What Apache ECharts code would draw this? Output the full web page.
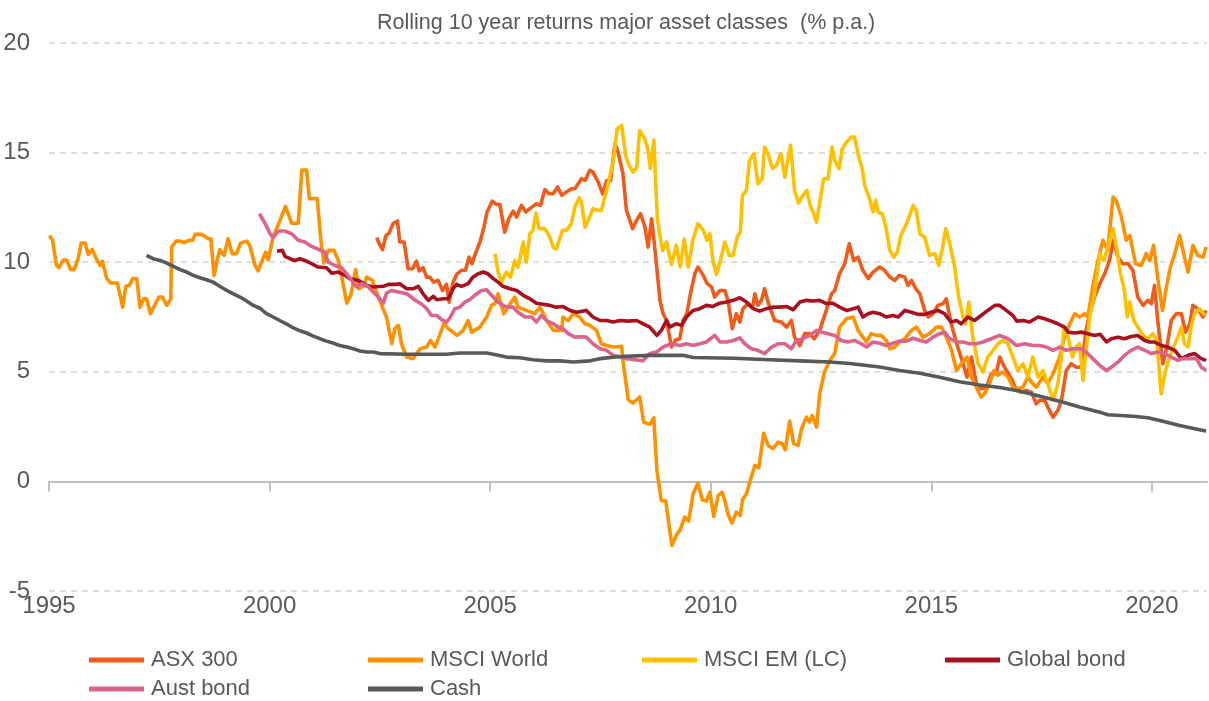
<!DOCTYPE html>
<html>
<head>
<meta charset="utf-8">
<title>Rolling 10 year returns</title>
<script src="https://cdn.jsdelivr.net/npm/echarts@6/dist/echarts.min.js"></script>
<style>
  html, body { margin: 0; padding: 0; background: #fff; }
  #chart { width: 1209px; height: 701px; }
</style>
</head>
<body>
<div id="chart"></div>
<script>
// [year, % p.a.]
const asx300 = [
  [2002.43, 11.12], [2002.48, 10.87], [2002.56, 10.57], [2002.64, 11.22], [2002.71, 11.33], [2002.80, 11.76],
  [2002.90, 11.88], [2002.95, 10.92], [2003.05, 10.92], [2003.14, 9.7], [2003.24, 9.7], [2003.33, 10.05],
  [2003.39, 9.6], [2003.48, 9.75], [2003.56, 9.32], [2003.63, 9.32], [2003.72, 9.09], [2003.82, 9.17],
  [2003.92, 8.71], [2004.01, 8.99], [2004.07, 8.18], [2004.16, 9.09], [2004.25, 9.47], [2004.35, 9.63],
  [2004.44, 9.63], [2004.52, 10.23], [2004.59, 9.93], [2004.65, 10.31], [2004.77, 10.92], [2004.86, 11.6],
  [2004.93, 12.29], [2005.05, 12.79], [2005.14, 12.64], [2005.22, 12.64], [2005.33, 11.37], [2005.42, 11.98],
  [2005.52, 12.33], [2005.60, 12.06], [2005.71, 12.59], [2005.81, 12.29], [2005.92, 12.48], [2006.05, 12.67],
  [2006.14, 12.59], [2006.24, 13.31], [2006.34, 13.12], [2006.43, 13.12], [2006.53, 13.43], [2006.62, 13.05],
  [2006.73, 13.2], [2006.84, 13.35], [2006.92, 13.35], [2007.02, 13.65], [2007.07, 13.81], [2007.15, 13.73],
  [2007.26, 14.19], [2007.33, 14.11], [2007.45, 13.65], [2007.55, 13.12], [2007.64, 13.73], [2007.73, 13.73],
  [2007.83, 15.41], [2007.90, 15.02], [2008.01, 14.04], [2008.09, 12.36], [2008.23, 11.53], [2008.32, 11.91],
  [2008.41, 12.21], [2008.51, 11.6], [2008.58, 10.69], [2008.66, 11.98], [2008.73, 10.69], [2008.85, 8.26],
  [2008.92, 7.65], [2009.00, 7.34], [2009.11, 6.13], [2009.21, 6.46], [2009.30, 6.51], [2009.37, 7.34],
  [2009.46, 7.65], [2009.54, 8.56], [2009.64, 9.47], [2009.71, 9.78], [2009.83, 9.4], [2009.92, 9.02],
  [2010.02, 8.87], [2010.09, 8.41], [2010.21, 8.71], [2010.32, 8.71], [2010.39, 8.26], [2010.49, 6.97],
  [2010.58, 7.65], [2010.66, 7.27], [2010.73, 7.88], [2010.85, 8.11], [2010.95, 7.95], [2011.00, 8.56],
  [2011.07, 8.03], [2011.15, 8.26], [2011.22, 8.79], [2011.30, 8.18], [2011.38, 7.72], [2011.45, 7.34],
  [2011.60, 7.27], [2011.72, 7.04], [2011.83, 7.34], [2011.90, 6.58], [2012.02, 6.2], [2012.13, 6.74],
  [2012.24, 6.74], [2012.35, 6.51], [2012.47, 6.89], [2012.62, 7.8], [2012.74, 8.56], [2012.81, 8.71],
  [2012.92, 9.47], [2013.04, 9.93], [2013.14, 10.84], [2013.24, 10.08], [2013.34, 10.23], [2013.45, 9.63],
  [2013.57, 9.25], [2013.68, 9.55], [2013.83, 9.78], [2013.94, 9.63], [2014.06, 9.32], [2014.17, 9.17],
  [2014.28, 9.4], [2014.40, 9.32], [2014.47, 8.94], [2014.55, 9.17], [2014.65, 8.79], [2014.74, 8.56],
  [2014.85, 7.8], [2014.93, 7.5], [2015.04, 7.65], [2015.15, 8.03], [2015.27, 8.11], [2015.34, 8.33],
  [2015.42, 7.5], [2015.49, 6.89], [2015.60, 6.13], [2015.72, 5.37], [2015.81, 4.76], [2015.91, 5.67],
  [2016.02, 4.46], [2016.13, 4.23], [2016.25, 4.3], [2016.36, 4.91], [2016.47, 4.91], [2016.55, 5.67],
  [2016.66, 5.21], [2016.82, 4.68], [2016.93, 4.15], [2017.04, 4.07], [2017.15, 4.15], [2017.27, 4.07],
  [2017.38, 3.54], [2017.46, 3.7], [2017.57, 3.7], [2017.64, 3.39], [2017.76, 2.93], [2017.87, 3.24],
  [2017.95, 3.7], [2018.06, 5.06], [2018.17, 5.37], [2018.29, 5.21], [2018.40, 5.21], [2018.51, 6.89],
  [2018.59, 7.65], [2018.70, 8.41], [2018.82, 9.02], [2018.93, 9.47], [2019.04, 10.08], [2019.13, 11.0],
  [2019.23, 10.23], [2019.34, 9.93], [2019.46, 9.93], [2019.57, 9.63], [2019.68, 8.41], [2019.80, 8.03],
  [2019.91, 8.26], [2019.99, 8.11], [2020.06, 8.94], [2020.14, 7.19], [2020.25, 5.37], [2020.34, 6.13],
  [2020.44, 7.34], [2020.55, 7.65], [2020.67, 7.65], [2020.76, 6.81], [2020.86, 7.19], [2020.93, 8.03],
  [2021.04, 7.88], [2021.16, 7.5], [2021.23, 7.8]
];

const msciWorld = [
  [1995.01, 11.22], [1995.08, 11.0], [1995.17, 9.85], [1995.23, 9.75], [1995.32, 10.1], [1995.40, 10.1],
  [1995.49, 9.66], [1995.57, 9.66], [1995.66, 10.16], [1995.73, 10.87], [1995.82, 10.87], [1995.89, 10.36],
  [1995.98, 10.58], [1996.08, 10.13], [1996.16, 9.85], [1996.21, 10.04], [1996.31, 9.25], [1996.40, 9.05],
  [1996.55, 9.05], [1996.67, 7.95], [1996.74, 8.9], [1996.82, 8.94], [1996.90, 9.25], [1996.99, 9.25],
  [1997.06, 7.95], [1997.15, 8.33], [1997.21, 8.33], [1997.30, 7.65], [1997.38, 7.98], [1997.49, 8.41],
  [1997.57, 8.41], [1997.67, 8.03], [1997.76, 8.33], [1997.78, 10.69], [1997.88, 10.96], [1997.97, 10.96],
  [1998.07, 10.9], [1998.17, 11.0], [1998.26, 11.0], [1998.31, 11.27], [1998.46, 11.27], [1998.61, 11.07],
  [1998.67, 11.07], [1998.74, 9.4], [1998.81, 10.08], [1998.87, 10.57], [1998.97, 10.31], [1999.06, 11.07],
  [1999.15, 10.39], [1999.25, 10.39], [1999.34, 10.87], [1999.48, 10.96], [1999.55, 10.77], [1999.67, 9.85],
  [1999.74, 9.6], [1999.82, 10.0], [1999.91, 10.46], [1999.97, 10.11], [2000.08, 11.15], [2000.22, 11.83],
  [2000.36, 12.55], [2000.50, 11.78], [2000.65, 11.78], [2000.73, 14.2], [2000.84, 14.2], [2000.90, 12.9],
  [2001.08, 12.9], [2001.16, 11.07], [2001.23, 9.96], [2001.33, 10.54], [2001.46, 10.54], [2001.56, 10.08],
  [2001.65, 9.17], [2001.75, 8.13], [2001.84, 8.49], [2001.95, 9.66], [2002.02, 8.79], [2002.12, 8.9],
  [2002.20, 9.32], [2002.33, 9.17], [2002.44, 8.56], [2002.54, 8.03], [2002.65, 7.5], [2002.77, 6.28],
  [2002.84, 6.97], [2002.92, 7.12], [2002.99, 6.28], [2003.11, 5.67], [2003.25, 5.6], [2003.41, 6.05],
  [2003.56, 6.13], [2003.65, 6.43], [2003.75, 6.13], [2003.84, 6.58], [2003.95, 7.19], [2004.05, 6.97],
  [2004.25, 6.66], [2004.39, 6.89], [2004.50, 7.34], [2004.58, 6.81], [2004.77, 7.04], [2004.92, 7.5],
  [2005.03, 8.03], [2005.11, 8.11], [2005.18, 8.56], [2005.31, 7.65], [2005.45, 8.1], [2005.56, 8.41],
  [2005.63, 7.95], [2005.82, 7.8], [2006.01, 7.65], [2006.13, 7.95], [2006.28, 7.34], [2006.43, 6.89],
  [2006.62, 6.89], [2006.65, 7.5], [2006.77, 7.34], [2006.88, 7.65], [2007.03, 7.5], [2007.15, 7.19],
  [2007.26, 7.12], [2007.41, 6.89], [2007.52, 6.28], [2007.64, 6.2], [2007.79, 6.13], [2007.98, 6.16],
  [2008.01, 5.52], [2008.13, 3.73], [2008.24, 3.57], [2008.39, 3.85], [2008.48, 2.71], [2008.62, 2.6],
  [2008.71, 2.9], [2008.78, 0.5], [2008.88, -0.87], [2008.98, -0.9], [2009.12, -2.92], [2009.22, -2.46],
  [2009.31, -2.2], [2009.41, -1.63], [2009.50, -1.81], [2009.60, -0.56], [2009.71, -0.08], [2009.81, -0.84],
  [2009.90, -0.9], [2009.98, -0.49], [2010.07, -1.6], [2010.17, -0.64], [2010.26, -0.49], [2010.33, -0.94],
  [2010.39, -1.5], [2010.48, -1.9], [2010.58, -1.4], [2010.67, -1.55], [2010.72, -0.84], [2010.81, -0.56],
  [2010.92, 0.2], [2011.00, 0.73], [2011.09, 0.62], [2011.20, 2.2], [2011.30, 1.64], [2011.41, 1.49],
  [2011.53, 1.79], [2011.62, 1.72], [2011.69, 1.45], [2011.79, 2.75], [2011.88, 1.72], [2011.98, 1.64],
  [2012.06, 2.4], [2012.17, 2.93], [2012.24, 2.71], [2012.30, 3.01], [2012.40, 2.48], [2012.47, 4.0],
  [2012.58, 5.0], [2012.70, 5.52], [2012.81, 5.83], [2012.92, 7.04], [2013.08, 7.42], [2013.23, 7.5],
  [2013.34, 6.89], [2013.45, 6.58], [2013.53, 6.36], [2013.64, 6.74], [2013.76, 6.66], [2013.87, 6.66],
  [2013.98, 6.43], [2014.06, 6.05], [2014.17, 6.13], [2014.28, 6.36], [2014.40, 6.51], [2014.55, 6.89],
  [2014.66, 7.04], [2014.81, 6.58], [2014.96, 6.74], [2015.12, 7.04], [2015.23, 7.04], [2015.34, 6.58],
  [2015.46, 5.98], [2015.57, 5.06], [2015.68, 5.37], [2015.81, 5.67], [2015.91, 4.76], [2016.02, 4.3],
  [2016.13, 3.85], [2016.23, 4.07], [2016.32, 4.46], [2016.42, 5.06], [2016.51, 4.84], [2016.62, 4.99],
  [2016.74, 4.76], [2016.85, 4.3], [2016.96, 4.23], [2017.08, 4.3], [2017.19, 4.76], [2017.30, 4.46],
  [2017.38, 4.3], [2017.53, 4.76], [2017.64, 4.46], [2017.76, 4.91], [2017.91, 5.67], [2018.02, 6.58],
  [2018.14, 7.19], [2018.25, 7.65], [2018.36, 7.5], [2018.48, 7.65], [2018.55, 7.5], [2018.66, 8.87],
  [2018.78, 10.08], [2018.89, 11.0], [2019.00, 10.54], [2019.12, 12.97], [2019.19, 12.82], [2019.31, 12.06],
  [2019.42, 11.0], [2019.50, 11.22], [2019.63, 9.93], [2019.76, 9.85], [2019.87, 10.39], [2019.95, 10.08],
  [2020.04, 10.77], [2020.14, 9.17], [2020.24, 7.8], [2020.33, 8.87], [2020.42, 9.78], [2020.52, 10.39],
  [2020.63, 11.22], [2020.72, 10.39], [2020.82, 9.55], [2020.93, 10.77], [2021.04, 10.31], [2021.16, 10.23],
  [2021.23, 10.69]
];

const msciEm = [
  [2005.11, 10.39], [2005.18, 9.55], [2005.26, 9.09], [2005.37, 9.55], [2005.46, 9.32], [2005.56, 10.08],
  [2005.63, 9.78], [2005.75, 10.92], [2005.82, 10.0], [2005.90, 11.3], [2005.97, 11.45], [2006.04, 12.24],
  [2006.11, 11.53], [2006.24, 11.53], [2006.35, 11.15], [2006.43, 10.69], [2006.50, 10.61], [2006.64, 11.45],
  [2006.73, 11.45], [2006.84, 11.76], [2006.92, 12.51], [2007.02, 12.94], [2007.07, 12.74], [2007.15, 11.6],
  [2007.24, 11.98], [2007.33, 12.44], [2007.45, 12.36], [2007.52, 12.36], [2007.64, 13.28], [2007.71, 13.88],
  [2007.79, 14.6], [2007.88, 16.09], [2007.98, 16.24], [2008.08, 14.8], [2008.15, 14.42], [2008.24, 14.11],
  [2008.32, 14.3], [2008.39, 16.01], [2008.51, 15.6], [2008.58, 15.1], [2008.63, 14.27], [2008.71, 15.57],
  [2008.79, 12.0], [2008.84, 11.3], [2008.91, 10.54], [2009.00, 10.92], [2009.11, 9.9], [2009.22, 10.77],
  [2009.31, 9.78], [2009.40, 11.05], [2009.49, 9.78], [2009.59, 10.95], [2009.71, 11.76], [2009.83, 11.45],
  [2009.92, 10.99], [2009.98, 11.3], [2010.05, 10.08], [2010.13, 9.44], [2010.22, 10.08], [2010.32, 10.92],
  [2010.42, 10.31], [2010.51, 10.31], [2010.60, 11.15], [2010.67, 11.37], [2010.72, 13.05], [2010.81, 13.28],
  [2010.88, 14.64], [2010.98, 14.95], [2011.07, 13.58], [2011.17, 13.81], [2011.22, 15.25], [2011.30, 14.95],
  [2011.40, 14.27], [2011.49, 14.42], [2011.59, 14.95], [2011.68, 13.88], [2011.75, 14.72], [2011.81, 15.33],
  [2011.90, 13.28], [2011.99, 12.7], [2012.09, 13.05], [2012.18, 13.28], [2012.26, 12.55], [2012.32, 12.29],
  [2012.40, 11.83], [2012.49, 12.97], [2012.56, 13.81], [2012.66, 13.81], [2012.75, 15.25], [2012.81, 14.64],
  [2012.91, 14.27], [2012.98, 15.17], [2013.08, 15.48], [2013.19, 15.71], [2013.26, 15.71], [2013.34, 14.95],
  [2013.44, 14.19], [2013.49, 13.5], [2013.60, 12.9], [2013.68, 12.29], [2013.74, 12.82], [2013.79, 12.29],
  [2013.89, 12.21], [2013.97, 11.6], [2014.06, 10.54], [2014.15, 10.23], [2014.23, 10.46], [2014.31, 11.22],
  [2014.42, 11.68], [2014.51, 12.13], [2014.59, 12.59], [2014.66, 12.36], [2014.74, 11.3], [2014.85, 11.15],
  [2014.96, 10.31], [2015.08, 10.39], [2015.17, 9.85], [2015.25, 10.61], [2015.33, 11.53], [2015.42, 10.84],
  [2015.53, 9.78], [2015.62, 8.41], [2015.72, 7.5], [2015.78, 7.19], [2015.85, 8.18], [2015.94, 6.58],
  [2016.06, 5.37], [2016.17, 4.99], [2016.28, 5.67], [2016.40, 5.98], [2016.51, 6.28], [2016.62, 6.43],
  [2016.74, 6.28], [2016.85, 5.67], [2016.96, 5.06], [2017.08, 5.37], [2017.19, 4.76], [2017.30, 5.67],
  [2017.42, 4.76], [2017.53, 5.06], [2017.64, 4.46], [2017.76, 3.7], [2017.87, 4.46], [2017.95, 5.67],
  [2018.01, 7.04], [2018.10, 6.58], [2018.20, 5.67], [2018.29, 6.13], [2018.36, 6.28], [2018.44, 4.61],
  [2018.51, 5.98], [2018.59, 7.5], [2018.70, 8.56], [2018.82, 10.39], [2018.91, 10.08], [2019.00, 10.69],
  [2019.12, 11.53], [2019.21, 10.54], [2019.29, 9.47], [2019.38, 8.71], [2019.44, 7.5], [2019.50, 8.18],
  [2019.59, 7.34], [2019.68, 7.04], [2019.80, 6.66], [2019.91, 6.51], [2020.02, 6.74], [2020.11, 6.43],
  [2020.21, 4.0], [2020.31, 5.06], [2020.40, 5.67], [2020.49, 6.13], [2020.59, 6.58], [2020.67, 7.04],
  [2020.74, 6.28], [2020.82, 6.13], [2020.89, 7.04], [2020.97, 7.65], [2021.08, 7.88], [2021.20, 7.57]
];

const globalBond = [
  [2000.17, 10.5], [2000.29, 10.54], [2000.35, 10.27], [2000.46, 10.16], [2000.57, 10.08], [2000.69, 10.16],
  [2000.80, 10.08], [2000.95, 9.93], [2001.10, 9.78], [2001.29, 9.75], [2001.41, 9.5], [2001.56, 9.55],
  [2001.71, 9.4], [2001.82, 9.25], [2002.01, 9.17], [2002.20, 8.94], [2002.35, 8.87], [2002.58, 8.9],
  [2002.69, 8.99], [2002.88, 8.99], [2002.95, 9.02], [2003.11, 8.79], [2003.26, 8.79], [2003.37, 8.9],
  [2003.48, 8.56], [2003.60, 8.26], [2003.71, 8.44], [2003.79, 8.29], [2003.94, 8.33], [2004.05, 8.33],
  [2004.16, 8.79], [2004.24, 8.99], [2004.35, 8.9], [2004.50, 9.02], [2004.61, 9.32], [2004.73, 9.47],
  [2004.84, 9.55], [2004.95, 9.47], [2005.07, 9.25], [2005.18, 9.09], [2005.29, 8.9], [2005.45, 8.79],
  [2005.60, 8.71], [2005.75, 8.49], [2005.90, 8.33], [2006.05, 8.13], [2006.20, 8.08], [2006.35, 8.03],
  [2006.50, 7.95], [2006.65, 7.98], [2006.81, 7.8], [2006.96, 7.72], [2007.18, 7.8], [2007.33, 7.5],
  [2007.49, 7.34], [2007.64, 7.34], [2007.79, 7.27], [2007.94, 7.34], [2008.13, 7.31], [2008.32, 7.34],
  [2008.47, 7.19], [2008.62, 7.04], [2008.78, 6.66], [2008.88, 6.89], [2009.00, 7.34], [2009.07, 7.04],
  [2009.21, 7.19], [2009.34, 7.12], [2009.45, 7.5], [2009.60, 7.8], [2009.75, 7.88], [2009.90, 8.03],
  [2010.05, 7.98], [2010.20, 8.13], [2010.36, 8.18], [2010.51, 8.26], [2010.66, 8.38], [2010.81, 8.18],
  [2010.96, 7.88], [2011.11, 7.77], [2011.26, 7.88], [2011.41, 7.95], [2011.56, 7.95], [2011.72, 7.98],
  [2011.87, 7.83], [2012.02, 8.18], [2012.17, 8.26], [2012.32, 8.23], [2012.47, 8.26], [2012.62, 8.11],
  [2012.77, 8.13], [2012.92, 7.95], [2013.08, 7.8], [2013.23, 7.88], [2013.34, 7.95], [2013.45, 7.5],
  [2013.57, 7.65], [2013.68, 7.72], [2013.83, 7.65], [2013.98, 7.5], [2014.13, 7.57], [2014.25, 7.5],
  [2014.40, 7.8], [2014.55, 7.72], [2014.70, 7.62], [2014.85, 7.62], [2015.00, 7.72], [2015.15, 7.8],
  [2015.30, 7.65], [2015.45, 7.27], [2015.57, 7.34], [2015.68, 7.19], [2015.83, 7.5], [2015.98, 7.34],
  [2016.13, 7.57], [2016.28, 7.8], [2016.44, 8.03], [2016.55, 8.03], [2016.70, 7.8], [2016.85, 7.57],
  [2016.94, 7.31], [2017.08, 7.34], [2017.23, 7.27], [2017.42, 7.5], [2017.57, 7.42], [2017.72, 7.31],
  [2017.87, 7.19], [2018.02, 7.04], [2018.10, 6.81], [2018.25, 6.77], [2018.40, 6.81], [2018.55, 6.74],
  [2018.70, 6.66], [2018.83, 6.71], [2018.97, 6.36], [2019.08, 6.51], [2019.23, 6.58], [2019.38, 6.51],
  [2019.53, 6.61], [2019.68, 6.66], [2019.84, 6.43], [2019.95, 6.36], [2020.06, 6.36], [2020.21, 6.2],
  [2020.36, 6.13], [2020.52, 5.98], [2020.67, 5.6], [2020.82, 5.75], [2020.97, 5.83], [2021.12, 5.6],
  [2021.23, 5.52]
];

const austBond = [
  [1999.77, 12.21], [1999.89, 11.8], [2000.01, 11.3], [2000.08, 11.12], [2000.20, 11.42], [2000.35, 11.42],
  [2000.50, 11.3], [2000.65, 11.0], [2000.80, 10.92], [2000.95, 10.72], [2001.10, 10.6], [2001.25, 10.46],
  [2001.33, 10.0], [2001.48, 9.85], [2001.63, 9.75], [2001.75, 9.47], [2001.86, 9.17], [2001.97, 8.87],
  [2002.09, 9.02], [2002.24, 8.87], [2002.39, 8.56], [2002.50, 8.33], [2002.58, 8.13], [2002.65, 8.59],
  [2002.76, 8.71], [2002.92, 8.64], [2003.11, 8.56], [2003.29, 8.29], [2003.45, 8.08], [2003.56, 7.88],
  [2003.67, 7.57], [2003.79, 7.57], [2003.90, 7.38], [2004.01, 7.27], [2004.10, 7.5], [2004.20, 7.88],
  [2004.31, 7.95], [2004.43, 8.18], [2004.54, 8.29], [2004.65, 8.49], [2004.81, 8.71], [2004.92, 8.74],
  [2005.00, 8.56], [2005.07, 8.41], [2005.18, 8.18], [2005.33, 7.98], [2005.52, 7.95], [2005.63, 7.72],
  [2005.79, 7.5], [2005.94, 7.5], [2006.05, 7.27], [2006.16, 7.57], [2006.28, 7.34], [2006.43, 7.19],
  [2006.54, 7.04], [2006.65, 6.97], [2006.77, 6.74], [2006.92, 6.58], [2007.03, 6.6], [2007.18, 6.58],
  [2007.33, 6.28], [2007.49, 6.05], [2007.64, 5.98], [2007.79, 5.75], [2007.94, 5.67], [2008.09, 5.6],
  [2008.28, 5.55], [2008.46, 5.5], [2008.62, 5.83], [2008.77, 5.9], [2008.92, 6.13], [2009.11, 6.28],
  [2009.30, 6.2], [2009.45, 6.28], [2009.60, 6.2], [2009.75, 6.28], [2009.90, 6.36], [2010.09, 6.66],
  [2010.21, 6.36], [2010.36, 6.36], [2010.51, 6.43], [2010.66, 6.55], [2010.77, 6.28], [2010.92, 6.05],
  [2011.07, 5.98], [2011.22, 5.83], [2011.38, 6.13], [2011.53, 6.28], [2011.68, 6.28], [2011.83, 6.05],
  [2011.94, 6.43], [2012.09, 6.51], [2012.24, 6.66], [2012.40, 6.89], [2012.51, 6.81], [2012.66, 6.74],
  [2012.81, 6.66], [2012.96, 6.43], [2013.11, 6.36], [2013.26, 6.43], [2013.41, 6.28], [2013.53, 6.13],
  [2013.68, 6.36], [2013.83, 6.3], [2013.98, 6.2], [2014.13, 6.3], [2014.28, 6.4], [2014.43, 6.4],
  [2014.59, 6.53], [2014.74, 6.43], [2014.89, 6.36], [2015.04, 6.58], [2015.19, 6.74], [2015.30, 6.81],
  [2015.42, 6.51], [2015.57, 6.36], [2015.72, 6.36], [2015.87, 6.28], [2016.02, 6.28], [2016.17, 6.36],
  [2016.36, 6.51], [2016.55, 6.66], [2016.74, 6.51], [2016.93, 6.2], [2017.12, 6.28], [2017.30, 6.2],
  [2017.46, 6.2], [2017.61, 6.13], [2017.76, 5.98], [2017.91, 6.13], [2018.06, 5.98], [2018.21, 6.05],
  [2018.40, 6.05], [2018.51, 5.9], [2018.66, 5.6], [2018.82, 5.29], [2018.97, 5.06], [2019.08, 5.21],
  [2019.23, 5.44], [2019.38, 5.75], [2019.53, 5.98], [2019.68, 6.13], [2019.84, 5.98], [2019.99, 5.83],
  [2020.14, 5.9], [2020.29, 5.83], [2020.44, 5.67], [2020.59, 5.52], [2020.70, 5.6], [2020.86, 5.6],
  [2021.01, 5.6], [2021.12, 5.21], [2021.23, 5.06]
];

const cash = [
  [1997.21, 10.31], [1997.36, 10.16], [1997.52, 10.08], [1997.67, 9.96], [1997.82, 9.81], [1997.97, 9.66],
  [1998.12, 9.55], [1998.27, 9.4], [1998.42, 9.29], [1998.57, 9.2], [1998.72, 9.09], [1998.87, 8.9],
  [1999.03, 8.71], [1999.18, 8.56], [1999.33, 8.41], [1999.48, 8.23], [1999.63, 8.03], [1999.78, 7.9],
  [1999.93, 7.65], [2000.08, 7.5], [2000.23, 7.34], [2000.39, 7.18], [2000.54, 7.0], [2000.69, 6.87],
  [2000.84, 6.77], [2000.99, 6.63], [2001.14, 6.51], [2001.29, 6.4], [2001.44, 6.31], [2001.59, 6.2],
  [2001.75, 6.13], [2001.90, 6.05], [2002.05, 5.95], [2002.20, 5.9], [2002.35, 5.9], [2002.50, 5.83],
  [2003.11, 5.8], [2004.01, 5.8], [2004.31, 5.86], [2004.92, 5.86], [2005.07, 5.8], [2005.37, 5.67],
  [2005.67, 5.64], [2005.97, 5.55], [2006.28, 5.5], [2006.58, 5.5], [2006.88, 5.45], [2007.26, 5.5],
  [2007.49, 5.6], [2007.94, 5.7], [2008.62, 5.75], [2009.37, 5.75], [2009.60, 5.65], [2010.51, 5.62],
  [2011.34, 5.55], [2012.02, 5.5], [2012.70, 5.45], [2013.15, 5.38], [2013.83, 5.22], [2014.28, 5.06],
  [2014.74, 4.93], [2015.19, 4.75], [2015.64, 4.55], [2016.10, 4.4], [2016.55, 4.28], [2017.00, 4.12],
  [2017.46, 3.88], [2017.91, 3.66], [2018.36, 3.39], [2018.82, 3.16], [2019.00, 3.04], [2019.57, 2.97],
  [2019.91, 2.9], [2020.18, 2.78], [2020.63, 2.55], [2021.08, 2.36], [2021.23, 2.3]
];

const seriesNames = ['ASX 300', 'MSCI World', 'MSCI EM (LC)', 'Global bond', 'Aust bond', 'Cash'];
const seriesData = [asx300, msciWorld, msciEm, globalBond, austBond, cash];
const seriesColors = ['#f05a1a', '#ff9100', '#ffc000', '#a8101f', '#dc6389', '#595959'];
const yearTicks = [1995, 2000, 2005, 2010, 2015, 2020];

const FONT = "'Liberation Sans Narrow', 'Arial Narrow', 'Liberation Sans', Arial, sans-serif";
const textColor = '#595959';

const chart = echarts.init(document.getElementById('chart'), null, { renderer: 'canvas' });

// legend items sit in two rows, four loose columns
const legendSpots = [
  { left: 89, top: 649 }, { left: 368, top: 649 }, { left: 642, top: 649 }, { left: 945, top: 649 },
  { left: 89, top: 678 }, { left: 368, top: 678 }
];

const option = {
  animation: false,
  backgroundColor: '#fff',
  title: {
    text: 'Rolling 10 year returns major asset classes  (% p.a.)',
    left: 372,
    top: 7,
    textStyle: { fontFamily: FONT, fontSize: 21.5, fontWeight: 'normal', color: textColor }
  },
  legend: seriesNames.map((name, i) => ({
    data: [name],
    left: legendSpots[i].left,
    top: legendSpots[i].top,
    padding: 0,
    icon: 'rect',
    itemWidth: 55,
    itemHeight: 5,
    selectedMode: false,
    textStyle: { fontFamily: FONT, fontSize: 22, color: textColor, padding: [0, 0, 0, 2] }
  })),
  grid: { left: 49, right: 2, top: 43, bottom: 110, containLabel: false },
  xAxis: [
    {
      type: 'value',
      min: 1995,
      max: 2021.25,
      interval: 5,
      axisLine: { show: false, onZero: false },
      axisTick: { show: false },
      splitLine: { show: false },
      axisLabel: {
        fontFamily: FONT, fontSize: 24, color: textColor, margin: 3,
        customValues: yearTicks,
        formatter: v => String(v)
      }
    },
    {
      type: 'value',
      position: 'bottom',
      min: 1995,
      max: 2021.25,
      interval: 5,
      axisLine: { show: true, onZero: true, lineStyle: { color: '#bfbfbf', width: 2 } },
      axisTick: {
        show: true, length: 10, inside: false, customValues: yearTicks,
        lineStyle: { color: '#bfbfbf', width: 2 }
      },
      splitLine: { show: false },
      axisLabel: { show: false }
    }
  ],
  yAxis: {
    type: 'value',
    min: -5,
    max: 20,
    interval: 5,
    axisLine: { show: false },
    axisTick: { show: false },
    axisLabel: { fontFamily: FONT, fontSize: 24, color: textColor, margin: 19 },
    splitLine: { lineStyle: { color: '#d4d4d4', width: 1.5, type: [6, 5] } }
  },
  series: seriesNames.map((name, i) => ({
    name,
    type: 'line',
    xAxisIndex: 0,
    data: seriesData[i],
    showSymbol: false,
    symbol: 'none',
    color: seriesColors[i],
    lineStyle: { width: 3.6, color: seriesColors[i], join: 'round' }
  }))
};

chart.setOption(option);
</script>
</body>
</html>
